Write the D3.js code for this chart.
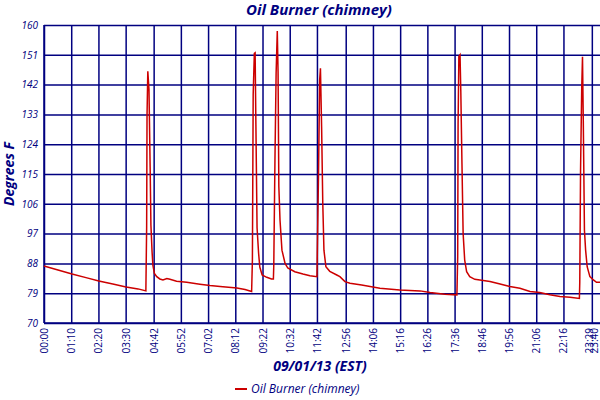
<!DOCTYPE html>
<html>
<head>
<meta charset="utf-8">
<script src="https://cdn.jsdelivr.net/npm/d3@7"></script>
<style>
  body { margin: 0; background: #fff; }
  text { font-family: "Open Sans", sans-serif; fill: #000080; }
</style>
</head>
<body>
<div id="chart"></div>
<script>
// readings (time of day, degrees F)
var times = ["0:00","0:36","1:12","1:48","2:21","2:57","3:31","4:02","4:22",
  "4:24","4:25","4:27","4:30","4:33","4:35","4:38","4:40","4:44","4:50","4:58","5:06","5:16","5:24","5:41","6:07","6:41","7:07","7:33","8:16","8:37","8:54",
  "8:56","8:58","9:01","9:03","9:05","9:08","9:12","9:15","9:21","9:33","9:45","9:50",
  "9:51","9:54","9:57","10:00","10:02","10:04","10:07","10:12","10:20","10:27","10:45","11:06","11:24","11:42",
  "11:46","11:49","11:51","11:54","11:57","12:00","12:05","12:15","12:33","12:41","12:54","13:07","13:37","14:24","15:15","16:07","16:33","17:11","17:42",
  "17:44","17:45","17:47","17:50","17:52","17:55","17:58","18:02","18:07","18:15","18:28","18:41","19:07","19:33","19:58","20:24","20:50","21:15","21:41","22:07","22:33","22:57",
  "22:58","23:00","23:03","23:05","23:07","23:10","23:13","23:17","23:24","23:33","23:41","23:50"];
var temps = [87.2,86.0,84.8,83.7,82.7,81.8,80.9,80.3,79.7,
  99,132.8,146,140.5,117,99.5,91.4,87.5,85,84,83.3,83,83.4,83.2,82.6,82.3,81.7,81.3,81.0,80.6,80.1,79.5,
  89,138.9,151.4,151.6,129.8,98.7,91,86.9,84.5,83.8,83.3,83.3,
  87.5,119.2,145.4,158.2,145.9,111.2,101.1,92,88,86.6,85.5,84.8,84.3,84.0,
  114.7,143.4,146.9,129.3,106.2,92,87,85.6,84.5,84,82.5,82,81.5,80.5,80,79.7,79.2,78.7,78.5,
  90,130,150.5,151,140,118,97,89,85.5,84,83.2,83,82.5,81.8,81,80.5,79.5,79.2,78.5,78,77.8,77.4,
  82.5,116.2,140.9,150.4,131.3,98,92,87,84,83,82.3,82.3];
var tickLabels = ["00:00","01:10","02:20","03:30","04:42","05:52","07:02","08:12","09:22","10:32","11:42",
  "12:56","14:06","15:16","16:26","17:36","18:46","19:56","21:06","22:16","23:29","23:40"];
var yTicks = [70,79,88,97,106,115,124,133,142,151,160];

function toMin(s) { var p = s.split(":"); return +p[0] * 60 + +p[1]; }
var data = times.map(function(t, i) { return {m: toMin(t), v: temps[i]}; });

var margin = {top: 25, right: 0, bottom: 77, left: 44},
    width = 600 - margin.left - margin.right,
    height = 400 - margin.top - margin.bottom;

var root = d3.select("#chart")
  .append("svg")
    .attr("width", 600)
    .attr("height", 400);

var svg = root.append("g")
    .attr("transform", "translate(" + margin.left + "," + margin.top + ")");

var x = d3.scaleLinear().domain([0, 1430]).range([0, width]);
var y = d3.scaleLinear().domain([70, 160]).range([height, 0]);

// horizontal grid
svg.append("g")
  .call(d3.axisLeft(y).tickValues(yTicks).tickSize(-width).tickFormat(""))
  .call(function(g) { g.select(".domain").remove(); })
  .selectAll("line").attr("stroke", "#000080").attr("stroke-width", 1.5);

// vertical grid (last label has no line)
svg.append("g")
  .attr("transform", "translate(0," + height + ")")
  .call(d3.axisBottom(x).tickValues(tickLabels.slice(0, -1).map(toMin)).tickSize(-height).tickFormat(""))
  .call(function(g) { g.select(".domain").remove(); })
  .selectAll("line").attr("stroke", "#000080").attr("stroke-width", 1.5);

// y labels
svg.append("g")
  .call(d3.axisLeft(y).tickValues(yTicks).tickSize(0).tickPadding(6))
  .call(function(g) { g.select(".domain").remove(); })
  .selectAll("text")
    .style("font-size", "10px")
    .style("font-style", "italic")
    .attr("fill", "#000080");

// x labels, the last two squeezed together at the right edge
var nudge = {"23:29": -3, "23:40": -2};
svg.append("g")
  .attr("transform", "translate(0," + height + ")")
  .call(d3.axisBottom(x).tickValues(tickLabels.map(toMin)).tickSize(0)
    .tickFormat(function(d, i) { return tickLabels[i]; }))
  .call(function(g) { g.select(".domain").remove(); })
  .selectAll("text")
    .style("font-size", "10px")
    .attr("fill", "#000080")
    .style("text-anchor", "end")
    .attr("transform", "rotate(-90)")
    .attr("x", -5)
    .attr("y", function(d, i) { return nudge[tickLabels[i]] || 0; })
    .attr("dy", "0.35em");

// axis lines
svg.append("line").attr("x1", 0).attr("x2", width).attr("y1", height).attr("y2", height)
  .attr("stroke", "#000080").attr("stroke-width", 1.5);
svg.append("line").attr("x1", 0).attr("x2", 0).attr("y1", 0).attr("y2", height)
  .attr("stroke", "#000080").attr("stroke-width", 1.5);

// the series
var line = d3.line()
  .x(function(d) { return x(d.m); })
  .y(function(d) { return y(d.v); });

svg.append("path")
  .datum(data)
  .attr("fill", "none")
  .attr("stroke", "#cc0000")
  .attr("stroke-width", 1.5)
  .attr("d", line);

// titles
root.append("text")
  .attr("x", 319).attr("y", 15)
  .attr("text-anchor", "middle")
  .style("font-size", "15px").style("font-weight", "bold").style("font-style", "italic")
  .text("Oil Burner (chimney)");

root.append("text")
  .attr("x", 320).attr("y", 371)
  .attr("text-anchor", "middle")
  .style("font-size", "14px").style("font-weight", "bold").style("font-style", "italic")
  .text("09/01/13 (EST)");

root.append("text")
  .attr("transform", "translate(14," + (margin.top + height / 2) + ")rotate(-90)")
  .attr("text-anchor", "middle")
  .style("font-size", "14px").style("font-weight", "bold").style("font-style", "italic")
  .text("Degrees F");

// legend
var legend = root.append("g").attr("transform", "translate(235,389)");
legend.append("line").attr("x1", 0).attr("x2", 12).attr("y1", 0).attr("y2", 0)
  .attr("stroke", "#cc0000").attr("stroke-width", 2);
legend.append("text").attr("x", 16).attr("y", 0).attr("dy", "0.35em")
  .style("font-size", "12px").style("font-style", "italic")
  .text("Oil Burner (chimney)");
</script>
</body>
</html>
